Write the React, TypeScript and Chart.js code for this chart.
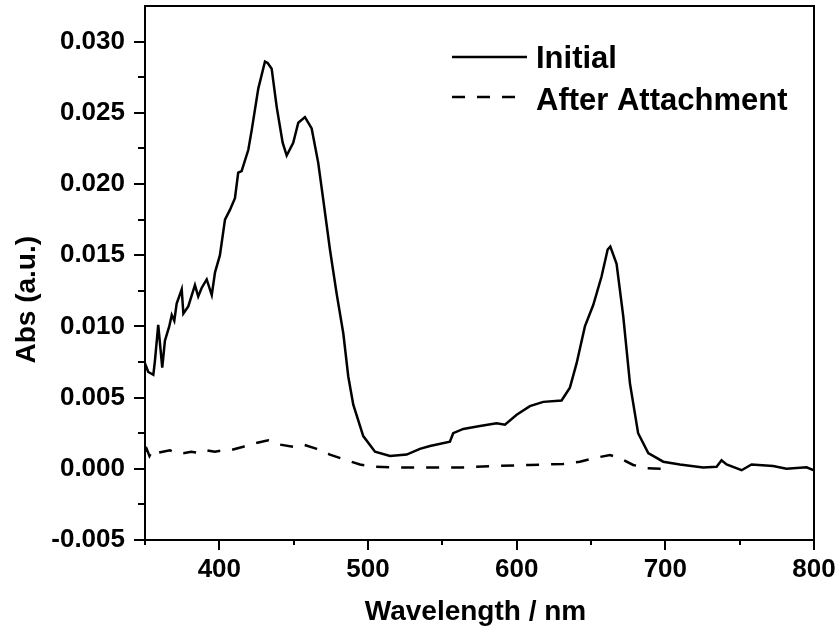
import React, { useEffect, useRef } from 'react';
import { Chart, registerables } from 'chart.js';

Chart.register(...registerables);

// ---- Data ----
const initialWavelength = [
  350.0, 352.2, 355.6, 356.7, 358.9, 361.6, 363.4, 366.3, 368.0, 369.7, 371.3, 374.7, 375.8, 379.1,
  383.6, 385.8, 388.1, 391.5, 394.9, 397.1, 400.4, 403.8, 407.2, 410.5, 412.7, 415.0, 419.5, 421.8,
  426.2, 430.7, 432.5, 435.2, 438.6, 442.6, 445.3, 449.7, 453.1, 457.6, 462.1, 466.5, 469.9, 474.4,
  478.9, 483.4, 486.7, 490.1, 496.8, 504.7, 514.8, 526.0, 534.9, 541.7, 555.1, 557.3, 564.1, 575.3,
  586.5, 592.1, 600.0, 608.9, 617.9, 630.2, 635.8, 640.3, 645.9, 651.5, 657.1, 661.2, 663.0, 667.2,
  671.7, 676.2, 681.7, 688.5, 698.6, 709.8, 725.4, 734.5, 737.8, 741.2, 751.3, 758.0, 772.5, 781.5,
  795.0, 800.0,
];
const initialAbs = [
  0.0074, 0.0068, 0.0066, 0.0076, 0.0101, 0.0071, 0.0090, 0.0100, 0.0108, 0.0104, 0.0116, 0.0126, 0.0109, 0.0114,
  0.0129, 0.0121, 0.0127, 0.0133, 0.0122, 0.0138, 0.0150, 0.0175, 0.0182, 0.0190, 0.0208, 0.0209, 0.0224, 0.0238,
  0.0267, 0.0286, 0.0285, 0.0281, 0.0254, 0.0229, 0.0220, 0.0229, 0.0243, 0.0247, 0.0239, 0.0215, 0.0189, 0.0154,
  0.0123, 0.0095, 0.0065, 0.0045, 0.0023, 0.0012, 0.0009, 0.0010, 0.0014, 0.0016, 0.0019, 0.0025, 0.0028, 0.0030,
  0.0032, 0.0031, 0.0038, 0.0044, 0.0047, 0.0048, 0.0057, 0.0074, 0.0100, 0.0115, 0.0135, 0.0154, 0.0156, 0.0144,
  0.0107, 0.0060, 0.0025, 0.0011, 0.0005, 0.0003, 0.0001, 0.00015, 0.0006, 0.0003, -0.0001, 0.0003, 0.0002, 0.0000,
  0.0001, -0.0001,
];
const afterWavelength = [
  350.0, 351.1, 353.0, 355.0, 357.9, 362.0, 366.8, 371.0, 375.8, 381.0, 387.0, 391.5, 397.0, 402.7,
  407.2, 416.1, 424.0, 432.9, 440.8, 449.7, 456.5, 465.5, 474.4, 485.6, 494.6, 503.5, 519.3, 541.7,
  564.1, 586.5, 608.9, 631.3, 642.5, 651.5, 662.8, 669.5, 678.4, 687.4, 698.6, 703.0,
];
const afterAbs = [
  0.0012, 0.0014, 0.0009, 0.0013, 0.0011, 0.0012, 0.0013, 0.0011, 0.0011, 0.0012, 0.0011, 0.0013, 0.0012, 0.0013,
  0.0013, 0.00155, 0.0018, 0.0020, 0.0017, 0.00155, 0.0017, 0.0014, 0.0010, 0.0006, 0.0003, 0.00015, 0.0001, 0.0001,
  0.0001, 0.0002, 0.00027, 0.00034, 0.0005, 0.00074, 0.00097, 0.00074, 0.00027, 0.00004, 0.0, 0.0,
];

const seriesLabels = ['Initial', 'After Attachment'];
const xAxisTitle = 'Wavelength / nm';
const yAxisTitle = 'Abs (a.u.)';

const xMajorTicks = [400, 500, 600, 700, 800];
const xMinorTicks = [350, 450, 550, 650, 750];
const yMajorTicks = [-0.005, 0.0, 0.005, 0.01, 0.015, 0.02, 0.025, 0.03];
const yMinorTicks = [-0.0025, 0.0025, 0.0075, 0.0125, 0.0175, 0.0225, 0.0275];

const X_MIN = 350;
const X_MAX = 800;
const Y_MIN = -0.005;
const Y_MAX = 0.0325;

const FONT = '"Liberation Sans", Arial, Helvetica, sans-serif';
const dashPattern = [13, 12];

const zeroPad = (scale: any) => {
  scale.paddingTop = 0;
  scale.paddingBottom = 0;
  scale.paddingLeft = 0;
  scale.paddingRight = 0;
};

const decorPlugin = {
  id: 'decor',
  afterDraw(chart: any) {
    const { ctx, chartArea: a, scales } = chart;
    const xs = scales.x;
    const ys = scales.y;
    ctx.save();
    ctx.strokeStyle = '#000';
    ctx.fillStyle = '#000';
    ctx.lineWidth = 2;
    ctx.setLineDash([]);
    // frame
    ctx.strokeRect(a.left, a.top, a.right - a.left, a.bottom - a.top);
    // ticks
    ctx.beginPath();
    const xt = (vals: number[], len: number) => {
      vals.forEach((v) => {
        const px = Math.round(xs.getPixelForValue(v));
        ctx.moveTo(px, a.bottom);
        ctx.lineTo(px, a.bottom + len);
      });
    };
    const yt = (vals: number[], len: number) => {
      vals.forEach((v) => {
        const py = Math.round(ys.getPixelForValue(v));
        ctx.moveTo(a.left, py);
        ctx.lineTo(a.left - len, py);
      });
    };
    xt(xMajorTicks, 10);
    xt(xMinorTicks, 5);
    yt(yMajorTicks, 11);
    yt(yMinorTicks, 7);
    ctx.stroke();

    // axis titles
    ctx.font = `bold 28px ${FONT}`;
    ctx.textAlign = 'center';
    ctx.textBaseline = 'alphabetic';
    ctx.fillText(xAxisTitle, (a.left + a.right) / 2 - 4, a.bottom + 80);
    ctx.save();
    ctx.translate(35, a.top + (a.bottom - a.top) * 0.55);
    ctx.rotate(-Math.PI / 2);
    ctx.fillText(yAxisTitle, 0, 0);
    ctx.restore();

    // legend
    ctx.font = `bold 31px ${FONT}`;
    ctx.textAlign = 'left';
    ctx.lineWidth = 2.5;
    const rows = [
      { label: seriesLabels[0], dash: [] as number[], lineY: a.top + 51, baseY: a.top + 62, lineEnd: a.right - 287 },
      { label: seriesLabels[1], dash: dashPattern, lineY: a.top + 91, baseY: a.top + 104, lineEnd: a.right - 299 },
    ];
    rows.forEach((r) => {
      ctx.setLineDash(r.dash);
      ctx.beginPath();
      ctx.moveTo(a.right - 362, r.lineY);
      ctx.lineTo(r.lineEnd, r.lineY);
      ctx.stroke();
      ctx.setLineDash([]);
      ctx.fillText(r.label, a.right - 278, r.baseY);
    });
    ctx.restore();
  },
};

export default function App() {
  const canvasRef = useRef<HTMLCanvasElement | null>(null);

  useEffect(() => {
    document.body.style.margin = '0';
    const canvas = canvasRef.current;
    if (!canvas) return;
    const chart = new Chart(canvas, {
      type: 'line',
      data: {
        datasets: [
          {
            label: seriesLabels[0],
            data: initialWavelength.map((x, i) => ({ x, y: initialAbs[i] })),
            borderColor: '#000',
            borderWidth: 2.5,
            pointRadius: 0,
            tension: 0,
            fill: false,
          },
          {
            label: seriesLabels[1],
            data: afterWavelength.map((x, i) => ({ x, y: afterAbs[i] })),
            borderColor: '#000',
            borderWidth: 2.5,
            borderDash: dashPattern,
            pointRadius: 0,
            tension: 0,
            fill: false,
          },
        ],
      },
      options: {
        animation: false,
        responsive: false,
        maintainAspectRatio: false,
        layout: { padding: { left: 0, top: 6, right: 25, bottom: 0 } },
        plugins: {
          legend: { display: false },
          tooltip: { enabled: false },
          title: { display: false },
        },
        scales: {
          x: {
            type: 'linear',
            min: X_MIN,
            max: X_MAX,
            grid: { display: false, drawTicks: false },
            border: { display: false },
            afterBuildTicks: (scale: any) => {
              scale.ticks = xMajorTicks.map((value) => ({ value }));
            },
            afterFit: (scale: any) => {
              scale.height = 98;
              zeroPad(scale);
            },
            ticks: {
              autoSkip: false,
              maxRotation: 0,
              padding: 14,
              color: '#000',
              font: { family: FONT, size: 26, weight: 'bold' },
              callback: (v: any) => String(v),
            },
          },
          y: {
            type: 'linear',
            min: Y_MIN,
            max: Y_MAX,
            grid: { display: false, drawTicks: false },
            border: { display: false },
            afterBuildTicks: (scale: any) => {
              scale.ticks = yMajorTicks.map((value) => ({ value }));
            },
            afterFit: (scale: any) => {
              scale.width = 145;
              zeroPad(scale);
            },
            ticks: {
              autoSkip: false,
              padding: 20,
              color: '#000',
              font: { family: FONT, size: 26, weight: 'bold' },
              callback: (v: any) => Number(v).toFixed(3),
            },
          },
        },
      } as any,
      plugins: [decorPlugin],
    });
    return () => chart.destroy();
  }, []);

  return <canvas ref={canvasRef} width={839} height={638} style={{ display: 'block' }} />;
}
